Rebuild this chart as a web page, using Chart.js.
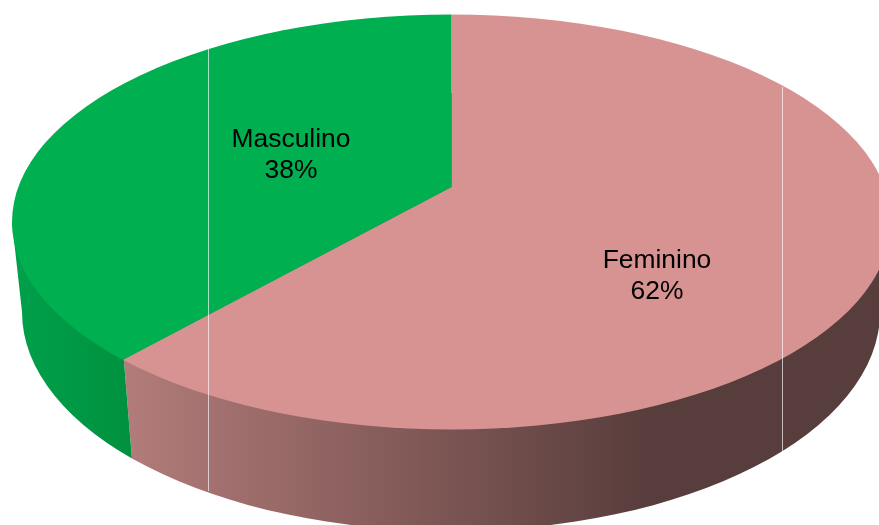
<!DOCTYPE html>
<html>
<head>
<meta charset="utf-8">
<style>html,body{margin:0;padding:0;background:#fff;overflow:hidden}canvas{display:block}</style>
<script src="https://cdn.jsdelivr.net/npm/chart.js@4"></script>
</head>
<body>
<canvas id="c" width="879" height="525"></canvas>
<script>
const categories = ['Feminino', 'Masculino'];
const percentages = [62, 38];
const faceColors = ['#D79392', '#00AF50'];

// 3D look
const topFace = {x: 451.4, y: 222, rx: 439.4, ry: 207.5};
const baseFace = {x: 451, y: 312, rx: 429, ry: 219};
const apex = {x: 451.5, y: 187};
const squash = 0.494, zoomOut = 3;
const seam = {x: 110, y: 190, angle: Math.atan2(98, 8)};
const labelSpots = [{x: 657, y: 261}, {x: 291, y: 140}];
const seamLines = [{x: 208, y0: 49, y1: 491}, {x: 782, y0: 87, y1: 452}];

function wallFills(ctx) {
  const pink = ctx.createLinearGradient(124, 0, 650, 0);
  pink.addColorStop(0, '#B27C7A');
  pink.addColorStop(0.55, '#815957');
  pink.addColorStop(1, '#573D3C');
  const green = ctx.createLinearGradient(15, 0, 130, 0);
  green.addColorStop(0, '#00A04B');
  green.addColorStop(1, '#00913F');
  return [pink, green];
}

const pie3d = {
  id: 'pie3d',
  beforeDatasetsDraw(chart) {
    const ctx = chart.ctx;
    const arcs = chart.getDatasetMeta(0).data;
    const fills = wallFills(ctx);
    const turn = seam.angle - arcs[0].endAngle;
    ctx.save();
    ctx.beginPath();
    ctx.ellipse(baseFace.x, baseFace.y, baseFace.rx, baseFace.ry, 0, 0, Math.PI * 2);
    ctx.moveTo(topFace.x - topFace.rx, topFace.y);
    ctx.lineTo(topFace.x + topFace.rx, topFace.y);
    ctx.lineTo(baseFace.x + baseFace.rx, baseFace.y);
    ctx.lineTo(baseFace.x - baseFace.rx, baseFace.y);
    ctx.closePath();
    ctx.clip();
    arcs.forEach((arc, i) => {
      const wall = Object.create(arc);
      wall.x = seam.x;
      wall.y = seam.y;
      wall.outerRadius = 1400;
      wall.startAngle = arc.startAngle + turn;
      wall.endAngle = arc.endAngle + turn;
      wall.options = {backgroundColor: fills[i], borderColor: fills[i], borderWidth: 0,
        borderAlign: 'center', spacing: 0, offset: 0, borderRadius: 0, circular: true};
      wall.draw(ctx);
    });
    ctx.restore();

    ctx.save();
    ctx.beginPath();
    ctx.ellipse(topFace.x, topFace.y, topFace.rx, topFace.ry, 0, 0, Math.PI * 2);
    ctx.clip();
    const a = arcs[0];
    ctx.translate(apex.x, apex.y);
    ctx.scale(zoomOut, zoomOut * squash);
    ctx.translate(-a.x, -a.y);
  },
  afterDatasetsDraw(chart) {
    const ctx = chart.ctx;
    ctx.restore();
    ctx.save();
    ctx.fillStyle = 'rgba(255,255,255,0.65)';
    seamLines.forEach(l => ctx.fillRect(l.x, l.y0, 1, l.y1 - l.y0));
    ctx.fillStyle = '#000';
    ctx.font = '26.4px "Liberation Sans", Arial, sans-serif';
    ctx.textAlign = 'center';
    ctx.textBaseline = 'middle';
    categories.forEach((name, i) => {
      ctx.fillText(name, labelSpots[i].x, labelSpots[i].y);
      ctx.fillText(percentages[i] + '%', labelSpots[i].x, labelSpots[i].y + 31);
    });
    ctx.restore();
  }
};

new Chart(document.getElementById('c'), {
  type: 'pie',
  data: {
    labels: categories,
    datasets: [{data: percentages, backgroundColor: faceColors, borderWidth: 0}]
  },
  options: {
    responsive: false,
    animation: false,
    layout: {padding: 0},
    plugins: {legend: {display: false}, tooltip: {enabled: false}}
  },
  plugins: [pie3d]
});
</script>
</body>
</html>
